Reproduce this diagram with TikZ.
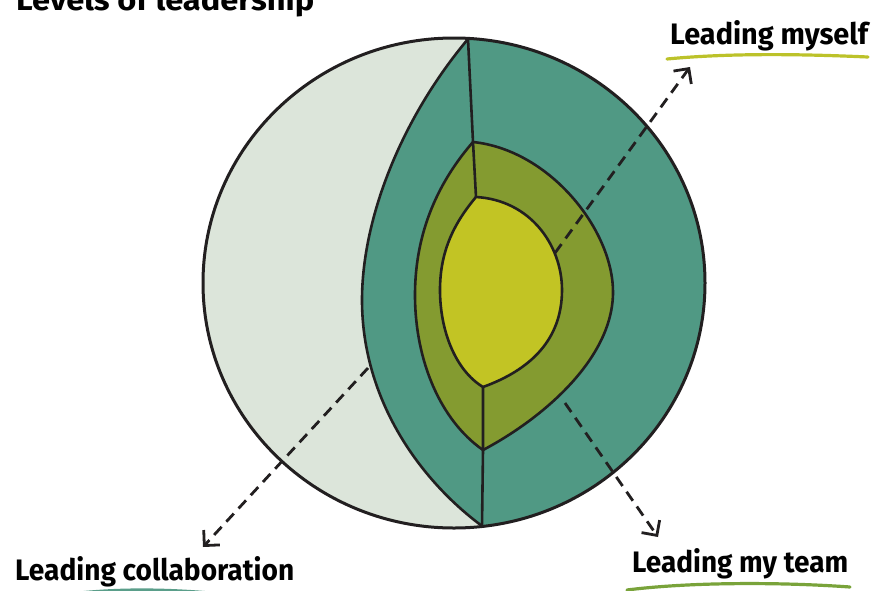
\documentclass[tikz,border=0pt]{standalone}
\usepackage{fontspec}
\setmainfont{Fira Sans}
\usetikzlibrary{arrows.meta}
\definecolor{cLight}{RGB}{220,229,218}
\definecolor{cTeal}{RGB}{80,153,132}
\definecolor{cOlive}{RGB}{132,155,48}
\definecolor{cYellow}{RGB}{194,196,36}
\definecolor{cUlYellow}{RGB}{188,194,42}
\definecolor{cUlGreen}{RGB}{121,163,58}
\definecolor{cUlTeal}{RGB}{90,158,138}
\definecolor{cInk}{RGB}{34,31,32}
\tikzset{
  outline/.style={draw=cInk, line width=2.6pt, line join=round},
  pointer/.style={draw=cInk, line width=2.8pt, dash pattern=on 11pt off 7pt,
    -{Straight Barb[length=11pt,width=22pt,line width=2.8pt]}},
  label/.style={anchor=base west, inner sep=0pt, text=black},
  underline/.style={line width=3.2pt, line cap=round},
}
\newcommand{\handtext}[3]{\resizebox{#1}{#2}{\bfseries #3}}
\begin{document}
\begin{tikzpicture}[x=1pt,y=-1pt]
\useasboundingbox (0,0) rectangle (871,590);
% outer sphere
\fill[cLight] (454,283) ellipse [x radius=251, y radius=245];
\begin{scope}
  \clip (454,283) ellipse [x radius=251, y radius=245];
  \fill[cTeal] (468,39) .. controls (400,120) and (362,220) .. (362,300)
     .. controls (362,400) and (420,480) .. (482,526) -- (482,600) -- (800,600) -- (800,0) -- (468,0) -- cycle;
\end{scope}
% olive layer
\path[outline, fill=cOlive] (473,142) .. controls (550,150) and (613,230) .. (613,292)
   .. controls (613,360) and (540,420) .. (483,450)
   .. controls (440,420) and (415,360) .. (415,295)
   .. controls (415,230) and (440,180) .. (473,142) -- cycle;
% yellow core
\path[outline, fill=cYellow] (476,197) .. controls (530,200) and (562,245) .. (562,290)
   .. controls (562,340) and (530,370) .. (483,387)
   .. controls (455,370) and (440,330) .. (440,290)
   .. controls (440,250) and (455,222) .. (476,197) -- cycle;
% cut lines
\draw[outline] (468,39) -- (473,142) -- (476,197);
\draw[outline] (483,387) -- (483,450) -- (482,526);
\draw[outline] (468,39) .. controls (400,120) and (362,220) .. (362,300)
     .. controls (362,400) and (420,480) .. (482,526);
\draw[outline, line width=3pt] (454,283) ellipse [x radius=251, y radius=245];
% pointer end points
\coordinate (myS) at (555,253);
\coordinate (myE) at (690,67);
\coordinate (colS) at (368,368);
\coordinate (colE) at (203,547);
\coordinate (teamS) at (565,403);
\coordinate (teamE) at (658,537);
\draw[pointer] (myS) -- (myE);
\draw[pointer] (colS) -- (colE);
\draw[pointer] (teamS) -- (teamE);
% labels
\node[label] (title) at (16,10) {\handtext{298pt}{24pt}{Levels of leadership}};
\node[label] (myself) at (670,44) {\handtext{198pt}{24pt}{Leading myself}};
\node[label] (team) at (632,572) {\handtext{216pt}{24pt}{Leading my team}};
\node[label] (collab) at (15,580) {\handtext{279pt}{24pt}{Leading collaboration}};
% underlines
\draw[underline, cUlYellow] (667,59) .. controls (730,53) and (800,54) .. (868,57);
\draw[underline, cUlGreen] (627,590) .. controls (690,582) and (780,582) .. (850,587);
\draw[underline, cUlTeal] (55,596) .. controls (110,588) and (170,588) .. (240,596);
\end{tikzpicture}
\end{document}
